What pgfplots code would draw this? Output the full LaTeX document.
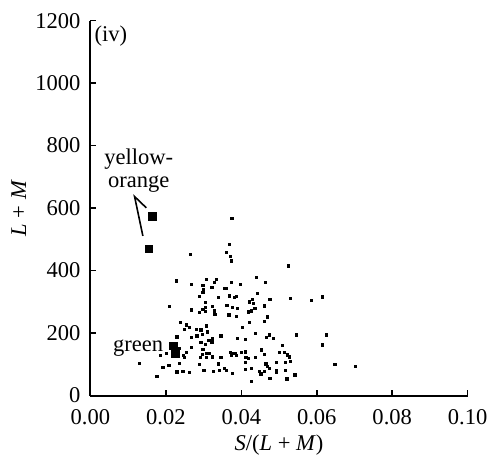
\documentclass[border=0pt]{standalone}
\usepackage{fontspec}
\setmainfont{Liberation Serif}
\usepackage{pgfplots}
\usepackage{pgfplotstable}
\pgfplotsset{compat=1.18}
\pgfplotstableread{
x y
0.0375 567
0.0368 484
0.0361 459
0.0372 446
0.0373 431
0.0264 452
0.0524 415
0.0440 379
0.0227 367
0.0307 372
0.0333 372
0.0329 362
0.0298 352
0.0373 362
0.0397 356
0.0464 361
0.0268 356
0.0355 343
0.0360 343
0.0322 346
0.0298 330
0.0300 338
0.0443 328
0.0368 319
0.0381 314
0.0386 317
0.0339 315
0.0476 309
0.0530 311
0.0586 305
0.0614 316
0.0430 309
0.0421 300
0.0432 295
0.0304 298
0.0289 318
0.0362 289
0.0377 281
0.0389 279
0.0324 285
0.0298 277
0.0304 269
0.0329 271
0.0330 260
0.0436 279
0.0426 271
0.0419 268
0.0461 287
0.0367 258
0.0386 253
0.0469 252
0.0461 237
0.0421 234
0.0403 218
0.0308 223
0.0310 204
0.0437 200
0.0296 195
0.0346 191
0.0390 183
0.0411 180
0.0475 194
0.0467 185
0.0485 183
0.0545 194
0.0615 162
0.0626 194
0.0324 183
0.0322 172
0.0305 165
0.0314 176
0.0509 160
0.0298 149
0.0296 133
0.0307 135
0.0315 136
0.0308 123
0.0324 124
0.0346 123
0.0370 139
0.0373 128
0.0377 136
0.0384 136
0.0388 128
0.0400 139
0.0410 140
0.0412 123
0.0419 119
0.0437 123
0.0454 146
0.0461 133
0.0500 139
0.0514 139
0.0522 130
0.0528 124
0.0516 107
0.0530 109
0.0492 107
0.0648 99
0.0301 80
0.0326 77
0.0339 101
0.0355 87
0.0360 81
0.0377 71
0.0410 107
0.0426 88
0.0411 83
0.0465 101
0.0469 94
0.0474 87
0.0448 78
0.0452 69
0.0461 78
0.0492 80
0.0494 75
0.0476 56
0.0521 53
0.0542 66
0.0426 45
0.0703 94
0.0210 285
0.0239 234
0.0254 226
0.0249 213
0.0262 218
0.0229 188
0.0267 186
0.0282 191
0.0268 274
0.0289 266
0.0305 282
0.0201 136
0.0185 128
0.0236 151
0.0247 128
0.0254 139
0.0267 154
0.0130 104
0.0208 96
0.0192 91
0.0236 103
0.0229 76
0.0245 77
0.0262 74
0.0289 99
0.0291 123
0.0293 170
0.0280 213
0.0293 210
0.0176 61
0.0249 123
0.0342 80
0.0516 80
}\dots
\pgfplotstableread{
x y
0.0164 573
0.0155 469
}\yelloworange
\pgfplotstableread{
x y
0.0220 159
0.0225 135
}\green
\begin{document}
\begin{tikzpicture}
\begin{axis}[
  name=ax,
  scale only axis,
  width=189.15pt, height=188pt,
  xmin=0, xmax=0.1, ymin=0, ymax=1200,
  axis x line*=bottom, axis y line*=left,
  axis line style={line width=1pt},
  tick align=inside,
  major tick length=3pt,
  tick style={line width=0.8pt, black},
  xtick={0,0.02,0.04,0.06,0.08,0.1},
  ytick={0,200,400,600,800,1000,1200},
  scaled x ticks=false,
  xticklabel style={yshift=-3.5pt, /pgf/number format/.cd, fixed, fixed zerofill, precision=2},
  yticklabel style={xshift=-1.5pt, /pgf/number format/1000 sep={}},
  /pgf/number format/assume math mode=true,
  tick label style={font=\fontsize{11.3}{13}\selectfont},
  label style={font=\fontsize{11.3}{13}\selectfont},
  xlabel={\textit{S}/(\textit{L} + \textit{M})},
  ylabel={\textit{L} + \textit{M}},
  xlabel style={at={(axis description cs:0.5,-0.133)}, anchor=center},
  ylabel style={at={(axis description cs:-0.19,0.5)}, anchor=center},
  clip=false,
]
\addplot[only marks, mark=square*, mark size=0.55pt, black] table {\dots};
\addplot[only marks, mark=square*, mark size=1.9pt, black] table {\yelloworange};
\addplot[only marks, mark=square*, mark size=1.9pt, black] table {\green};
\node[anchor=west, inner sep=0, font=\fontsize{11.3}{13}\selectfont] at (axis cs:0.001,1150) {(iv)};
\node[align=center, inner sep=0, font=\fontsize{11.3}{11.5}\selectfont] at (axis cs:0.0128,720) {yellow-\\orange};
\draw[line width=0.8pt] (axis cs:0.0148,601) -- (axis cs:0.0117,637) -- (axis cs:0.0139,511);
\node[anchor=base east, inner sep=0, font=\fontsize{11.3}{13}\selectfont] at (axis cs:0.0194,140) {green};
\end{axis}
\path (ax.south west) ++(-45.35pt,-31.65pt) rectangle ++(247pt,230pt);
\end{tikzpicture}
\end{document}
